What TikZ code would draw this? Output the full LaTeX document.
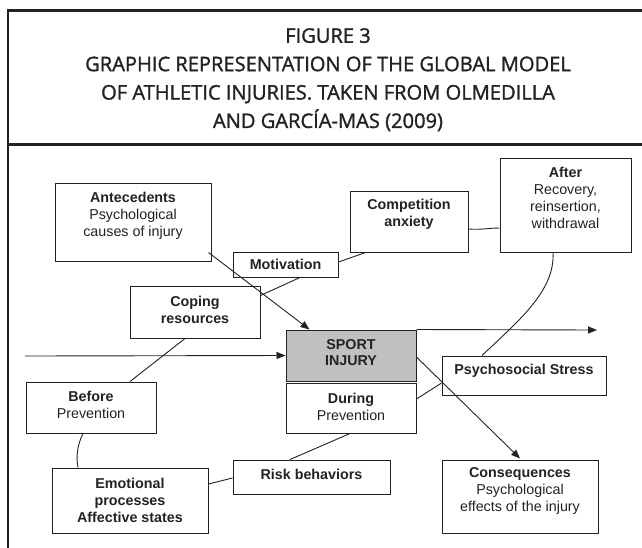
\documentclass[tikz,border=0pt]{standalone}
\usepackage{fontspec}
\setmainfont{Liberation Sans}
\newfontfamily\titlefont{Open Sans}[FakeBold=1.4]
\usetikzlibrary{arrows.meta}

\definecolor{ink}{HTML}{222222}
\definecolor{injury}{HTML}{C0C0C0}

\begin{document}
\begin{tikzpicture}[x=1pt,y=-1pt,
  box/.style={draw=ink, line width=1pt, rectangle, inner sep=0pt},
  txt/.style={align=center, font=\fontsize{14.3}{16.8}\selectfont, text=ink, inner sep=0pt},
  link/.style={draw=ink, line width=0.9pt},
  arr/.style={link, -{Triangle[length=9pt,width=7pt]}},
  frameline/.style={draw=ink, line width=2.5pt},
  heading/.style={align=center, text=ink, inner sep=0pt,
    font=\titlefont\fontsize{20.1}{28.4}\selectfont}]
\useasboundingbox (0,0) rectangle (642,547);

% outer frame and title separator
\begin{scope}
  \clip (0,0) rectangle (642,547);
  \draw[frameline] (8,10.5) rectangle (670,580);
  \draw[frameline] (8,144.5) -- (670,144.5);
\end{scope}

% title
\node[heading, anchor=north] (title) at (328,28) {FIGURE 3\\
  GRAPHIC REPRESENTATION OF THE GLOBAL MODEL\\
  OF ATHLETIC INJURIES. TAKEN FROM OLMEDILLA\\
  AND GARCÍA-MAS (2009)};

% boxes
\node[box, minimum width=156, minimum height=78] (ante)   at (133,222) {};
\node[box, minimum width=105, minimum height=25] (motiv)  at (285.5,264.5) {};
\node[box, minimum width=130, minimum height=52] (coping) at (195,312) {};
\node[box, minimum width=118, minimum height=61] (comp)   at (409,221.5) {};
\node[box, minimum width=131, minimum height=94] (after)  at (565.5,205) {};
\node[box, fill=injury, minimum width=130, minimum height=51] (sport) at (351,355.5) {};
\node[box, minimum width=130, minimum height=50] (during) at (351,408) {};
\node[box, minimum width=164, minimum height=39] (psych)  at (524,375.5) {};
\node[box, minimum width=156, minimum height=73] (conseq) at (520,496.5) {};
\node[box, minimum width=157, minimum height=34] (risk)   at (311.5,477) {};
\node[box, minimum width=156, minimum height=65] (emot)   at (130,500.5) {};
\node[box, minimum width=130, minimum height=51] (before) at (91,407.5) {};

% box texts
\node[txt] (ante-t)   at ([yshift=6]ante.center) {\textbf{Antecedents}\\Psychological\\causes of injury};
\node[txt] (motiv-t)  at (motiv.center) {\textbf{Motivation}};
\node[txt] (coping-t) at ([yshift=2]coping.center) {\textbf{Coping}\\\textbf{resources}};
\node[txt] (comp-t)   at ([yshift=7]comp.center) {\textbf{Competition}\\\textbf{anxiety}};
\node[txt] (after-t)  at ([yshift=7]after.center) {\textbf{After}\\Recovery,\\reinsertion,\\withdrawal};
\node[txt] (sport-t)  at ([yshift=3]sport.center) {\textbf{SPORT}\\\textbf{INJURY}};
\node[txt] (during-t) at ([yshift=1.5]during.center) {\textbf{During}\\Prevention};
\node[txt] (psych-t)  at ([yshift=4.5]psych.center) {\textbf{Psychosocial Stress}};
\node[txt] (conseq-t) at ([yshift=5.5]conseq.center) {\textbf{Consequences}\\Psychological\\effects of the injury};
\node[txt] (risk-t)   at ([yshift=3]risk.center) {\textbf{Risk behaviors}};
\node[txt] (emot-t)   at (emot.center) {\textbf{Emotional}\\\textbf{processes}\\\textbf{Affective states}};
\node[txt] (before-t) at ([yshift=3]before.center) {\textbf{Before}\\Prevention};

% free ends of the time axis
\coordinate (axis-in)  at (25,356);
\coordinate (axis-out) at (597,330);

% connectors
\draw[arr] (axis-in) -- (sport.west);
\draw[arr] (sport.north east) -- (axis-out);
\draw[arr] ([xshift=-3,yshift=9]ante.south east) -- ([xshift=24]sport.north west);
\draw[arr] ([yshift=-1.5]sport.east) -- ([yshift=1]conseq.north);
\draw[link] ([xshift=14.5]motiv.south) -- ([yshift=-10]coping.north east);
\draw[link] ([yshift=2.5]motiv.east) -- ([xshift=16]comp.south west);
\draw[link] ([yshift=-7.5]comp.east) .. controls +(12,1) and +(-10,0) .. ([yshift=-23]after.west);
\draw[link] ([xshift=-12.5]after.south) .. controls +(2,38) and +(38,-36) .. ([xshift=-42]psych.north);
\draw[link] ([xshift=-10]coping.south) -- ([xshift=39]before.north);
\draw[link] ([xshift=-8]before.south) .. controls +(-6,12) and +(-2,-10) .. ([xshift=-52]emot.north);
\draw[link] ([yshift=16.5]emot.east) -- ([yshift=-1]risk.west);
\draw[link] ([xshift=-21.5]risk.north) -- ([xshift=-1]during.south);
\draw[link] ([yshift=9]during.east) -- ([yshift=-7.5]psych.west);
\end{tikzpicture}
\end{document}
